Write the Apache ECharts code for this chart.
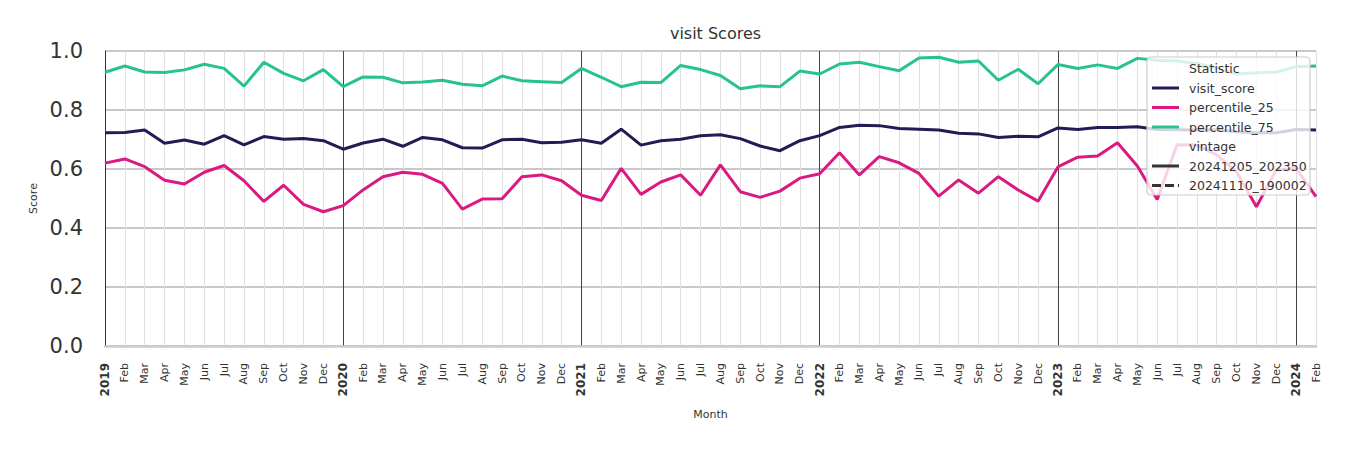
<!DOCTYPE html>
<html>
<head>
<meta charset="utf-8">
<script src="https://cdn.jsdelivr.net/npm/echarts@6/dist/echarts.min.js"></script>
<style>html,body{margin:0;padding:0;background:#fff;}#c{width:1350px;height:450px;}</style>
</head>
<body>
<div id="c"></div>
<script>
const tickLabels = [
 '2019','Feb','Mar','Apr','May','Jun','Jul','Aug','Sep','Oct','Nov','Dec',
 '2020','Feb','Mar','Apr','May','Jun','Jul','Aug','Sep','Oct','Nov','Dec',
 '2021','Feb','Mar','Apr','May','Jun','Jul','Aug','Sep','Oct','Nov','Dec',
 '2022','Feb','Mar','Apr','May','Jun','Jul','Aug','Sep','Oct','Nov','Dec',
 '2023','Feb','Mar','Apr','May','Jun','Jul','Aug','Sep','Oct','Nov','Dec',
 '2024','Feb'];
const yearLabels = ['2019','2020','2021','2022','2023','2024'];
const visitScore = [0.723,0.724,0.732,0.687,0.698,0.684,0.713,0.682,0.710,0.701,0.703,0.696,
 0.667,0.688,0.701,0.677,0.707,0.699,0.672,0.671,0.699,0.701,0.689,0.691,
 0.699,0.687,0.735,0.681,0.696,0.701,0.713,0.716,0.703,0.678,0.662,0.696,
 0.713,0.741,0.748,0.747,0.737,0.735,0.732,0.721,0.719,0.707,0.711,0.709,
 0.739,0.734,0.741,0.741,0.743,0.734,0.733,0.732,0.732,0.726,0.723,0.723,
 0.734,0.732];
const percentile25 = [0.620,0.634,0.608,0.562,0.549,0.589,0.612,0.560,0.490,0.545,0.480,0.455,
 0.476,0.529,0.574,0.589,0.582,0.551,0.464,0.498,0.499,0.574,0.580,0.560,
 0.511,0.493,0.602,0.514,0.556,0.580,0.511,0.614,0.523,0.504,0.525,0.569,
 0.584,0.655,0.580,0.642,0.621,0.585,0.508,0.563,0.518,0.574,0.529,0.491,
 0.607,0.640,0.644,0.689,0.610,0.497,0.682,0.681,0.648,0.590,0.472,0.597,
 0.602,0.506];
const percentile75 = [0.928,0.949,0.929,0.927,0.936,0.955,0.941,0.881,0.962,0.924,0.899,0.937,
 0.879,0.912,0.911,0.892,0.895,0.901,0.887,0.882,0.915,0.899,0.896,0.893,
 0.941,0.911,0.879,0.894,0.893,0.951,0.937,0.917,0.872,0.882,0.879,0.932,
 0.922,0.956,0.962,0.947,0.933,0.976,0.979,0.962,0.966,0.901,0.938,0.889,
 0.954,0.941,0.953,0.941,0.975,0.969,0.966,0.958,0.942,0.922,0.926,0.928,
 0.947,0.949];
const yTicks = [0, 0.2, 0.4, 0.6, 0.8, 1.0];
const statNames = ['visit_score','percentile_25','percentile_75'];
const vintageNames = ['20241205_202350','20241110_190002'];

const colors = ['#1f1d54', '#da1a82', '#27c38f'];
const font = 'DejaVu Sans';

const chart = echarts.init(document.getElementById('c'), null, {renderer: 'svg'});

const splitColors = ['#444444'].concat(new Array(11).fill('#e0e0e0'));

// legend graphics
const lx = 1147, ly = 57, lw = 163, lh = 138;
const legendEls = [{
  type: 'rect', shape: {x: lx, y: ly, width: lw, height: lh, r: 4},
  style: {fill: 'rgba(255,255,255,0.8)', stroke: '#cccccc', lineWidth: 1.2}, z: 100
}];
const rowY = [68.5, 88, 107.5, 127, 146.5, 166, 185.5];
const rows = [
  {text: 'Statistic'},
  {text: statNames[0], color: colors[0]},
  {text: statNames[1], color: colors[1]},
  {text: statNames[2], color: colors[2]},
  {text: 'vintage'},
  {text: vintageNames[0], color: '#333333'},
  {text: vintageNames[1], color: '#333333', dash: [9, 4]}
];
rows.forEach((r, i) => {
  if (r.color) {
    legendEls.push({type: 'line', shape: {x1: 1152, y1: rowY[i], x2: 1179, y2: rowY[i]},
      style: {stroke: r.color, lineWidth: 3, lineDash: r.dash || null}, z: 101});
  }
  legendEls.push({type: 'text', x: 1189, y: rowY[i], z: 101,
    style: {text: r.text, fill: '#333333', font: '12.5px "' + font + '"', textVerticalAlign: 'middle', verticalAlign: 'middle'}});
});

const option = {
  animation: false,
  backgroundColor: '#ffffff',
  textStyle: {fontFamily: font},
  title: {
    text: 'visit Scores', left: 710.5, top: 20, textAlign: 'center',
    textStyle: {fontFamily: font, fontSize: 16, fontWeight: 'normal', color: '#333333'}
  },
  grid: {left: 105, right: 34, top: 51, bottom: 104},
  xAxis: {
    type: 'category', data: tickLabels, boundaryGap: false,
    name: 'Month', nameLocation: 'middle', nameGap: 63,
    nameTextStyle: {fontFamily: font, fontSize: 11, color: '#333333'},
    axisLine: {show: true, lineStyle: {color: '#cccccc', width: 2.5}},
    axisTick: {show: false},
    axisLabel: {
      interval: 0, rotate: 90, margin: 17, fontSize: 11, color: '#333333', fontFamily: font,
      formatter: v => yearLabels.includes(v) ? '{y|' + v + '}' : v,
      rich: {y: {fontWeight: 'bold', fontSize: 12, fontFamily: font, color: '#333333'}}
    },
    splitLine: {show: true, interval: 0, lineStyle: {color: splitColors, width: 1}}
  },
  yAxis: {
    type: 'value', min: yTicks[0], max: yTicks[yTicks.length - 1], interval: 0.2,
    name: 'Score', nameLocation: 'middle', nameGap: 66, nameRotate: 90,
    nameTextStyle: {fontFamily: font, fontSize: 11, color: '#333333'},
    axisLine: {show: true, lineStyle: {color: '#333333', width: 1}},
    axisTick: {show: false},
    axisLabel: {fontSize: 21, color: '#333333', margin: 22, fontFamily: font, formatter: v => v.toFixed(1)},
    splitLine: {show: true, lineStyle: {color: '#c8c8c8', width: 2}}
  },
  series: [
    {name: statNames[0], type: 'line', data: visitScore, showSymbol: false, lineStyle: {color: colors[0], width: 3}, itemStyle: {color: colors[0]}},
    {name: statNames[1], type: 'line', data: percentile25, showSymbol: false, lineStyle: {color: colors[1], width: 3}, itemStyle: {color: colors[1]}},
    {name: statNames[2], type: 'line', data: percentile75, showSymbol: false, lineStyle: {color: colors[2], width: 3}, itemStyle: {color: colors[2]}}
  ],
  graphic: {elements: legendEls}
};
chart.setOption(option);
</script>
</body>
</html>
